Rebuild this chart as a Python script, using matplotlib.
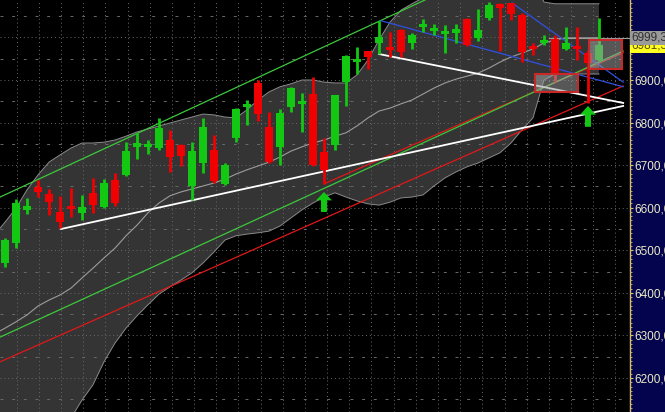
import numpy as np
import matplotlib
matplotlib.use("Agg")
import matplotlib.pyplot as plt
from matplotlib.patches import Rectangle, Polygon

# ---- candle data ----
opens = [6470, 6517, 6595, 6649, 6632, 6590, 6602, 6588, 6634, 6602,
         6665, 6677, 6743, 6743, 6740, 6759, 6747, 6651, 6705, 6736,
         6656, 6764, 6837, 6893, 6790, 6743, 6837, 6844, 6867, 6731,
         6747, 6895, 6942, 6968, 6987, 6978, 7017, 6987, 7025, 7015,
         7008, 7010, 7043, 6999, 7046, 7079, 7081, 7053, 6978, 6987,
         6996, 6973, 6978, 6963, 6947]
highs = [6528, 6620, 6623, 6665, 6644, 6628, 6646, 6630, 6670, 6667,
         6681, 6754, 6776, 6759, 6811, 6783, 6750, 6754, 6811, 6771,
         6705, 6834, 6853, 6900, 6825, 6832, 6884, 6869, 6907, 6764,
         6865, 6959, 6978, 6968, 7039, 7013, 7020, 7010, 7043, 7032,
         7029, 7032, 7046, 7067, 7083, 7081, 7081, 7057, 6987, 7006,
         7006, 7025, 7025, 6971, 7046]
lows = [6461, 6505, 6585, 6625, 6583, 6552, 6578, 6571, 6588, 6599,
        6604, 6675, 6714, 6726, 6736, 6684, 6698, 6618, 6682, 6658,
        6653, 6754, 6794, 6804, 6705, 6700, 6825, 6778, 6698, 6656,
        6736, 6839, 6914, 6926, 6961, 6954, 6954, 6973, 7013, 7006,
        6963, 6987, 6980, 6992, 7041, 6967, 7041, 6942, 6959, 6982,
        6895, 6971, 6947, 6846, 6945]
closes = [6524, 6611, 6604, 6637, 6613, 6566, 6597, 6602, 6606, 6658,
          6610, 6733, 6752, 6750, 6787, 6719, 6722, 6733, 6790, 6663,
          6700, 6832, 6841, 6820, 6707, 6823, 6881, 6848, 6700, 6689,
          6865, 6956, 6949, 6954, 7001, 6971, 6966, 7006, 7029, 7022,
          7015, 7020, 6982, 7017, 7076, 7069, 7055, 6966, 6973, 6994,
          6916, 6987, 6973, 6940, 6981.3]

# ---- Bollinger bands (first value = bar just off the left edge) ----
bb_upper = [6535,
            6566, 6599, 6642, 6677, 6707, 6724, 6740, 6752, 6752, 6754,
            6759, 6768, 6778, 6785, 6792, 6799, 6806, 6813, 6820, 6818,
            6813, 6811, 6830, 6853, 6872, 6884, 6891, 6900, 6900, 6895,
            6893, 6893, 6912, 6947, 6994, 7036, 7064, 7079, 7093, 7111,
            7123, 7130, 7135, 7135, 7140, 7153, 7158, 7147, 7135, 7083,
            7079, 7079, 7079, 7079, 7079]
bb_mid = [6303,
          6317, 6332, 6348, 6369, 6383, 6395, 6411, 6435, 6458, 6482,
          6505, 6534, 6559, 6588, 6611, 6628, 6637, 6644, 6651, 6658,
          6667, 6679, 6689, 6698, 6707, 6719, 6733, 6743, 6752, 6759,
          6768, 6776, 6792, 6811, 6827, 6834, 6844, 6853, 6867, 6881,
          6893, 6902, 6909, 6916, 6928, 6942, 6954, 6963, 6973, 6987,
          6994, 6999, 6999, 6999, 6999.3]
bb_lower = [6071,
            6068, 6064, 6054, 6061, 6059, 6066, 6106, 6148, 6184, 6238,
            6282, 6317, 6346, 6372, 6397, 6414, 6430, 6447, 6470, 6496,
            6524, 6534, 6538, 6541, 6545, 6557, 6576, 6595, 6611, 6625,
            6635, 6625, 6616, 6609, 6606, 6613, 6623, 6625, 6630, 6651,
            6670, 6684, 6696, 6705, 6717, 6729, 6752, 6783, 6811, 6900,
            6914, 6914, 6914, 6914, 6914]

# ---- trend lines: (x0, y0, x1, y1) in bar index / price ----
green_lines = [(-0.45, 6625, 38.6, 7093), (-0.45, 6296, 56.2, 6968)]
red_lines = [(-0.45, 6238, 56.2, 6886), (29, 6656, 56.2, 6964)]
white_lines = [(5.1, 6550, 56.2, 6839), (34, 6961, 56.2, 6846)]
blue_lines = [(34.2, 7039, 56.2, 6884), (46.1, 7081, 56.2, 6895)]

# ---- boxes (x0, x1, y0, y1) and arrows (x, tip, base) ----
boxes = [(48.2, 52.1, 6872, 6914), (53.1, 56.1, 6926, 6994)]
arrows = [(29, 6637, 6590), (53, 6839, 6790)]

last_mid = 6999.3
last_close = 6981.3
ytick_vals = [6200, 6300, 6400, 6500, 6600, 6700, 6800, 6900]

Y0, Y1 = 6120.1, 7087.9

idx = np.arange(len(closes))
band_idx = np.arange(-1, len(bb_mid) - 1)
o = np.array(opens, dtype=float)
c = np.array(closes, dtype=float)
h = np.array(highs, dtype=float)
l = np.array(lows, dtype=float)

GREEN = "#12c812"
RED = "#f00000"

fig = plt.figure(figsize=(6.65, 4.12), dpi=100, facecolor="#03034e")
ax = fig.add_axes([0, 0, 630 / 665, 1])
ax.set_facecolor("black")
ax.set_xlim(-0.4545, 56.82)
ax.set_ylim(Y0, Y1)

# grid
for gx in np.arange(1.07, 57, 2.0155):
    ax.axvline(gx, color="#6a6a6a", lw=0.7, ls=(0, (1, 3)), zorder=1.5)
for gy in np.arange(6150, 7100, 50):
    if gy % 100 == 0:
        ax.axhline(gy, color="#6a6a6a", lw=0.7, ls=(0, (1, 3)), zorder=1.5)
    else:
        ax.axhline(gy, color="#6a6a6a", lw=0.7, ls=(0, (3, 9)), zorder=1.5)

# bollinger band
ax.fill_between(band_idx, bb_lower, bb_upper, color="#343434", lw=0, zorder=1)
ax.plot(band_idx, bb_upper, color="#8a8a8a", lw=0.7, zorder=1.6)
ax.plot(band_idx, bb_lower, color="#8a8a8a", lw=0.7, zorder=1.6)
ax.plot(band_idx, bb_mid, color="#9c9c9c", lw=0.8, zorder=2)
ax.plot([49.5, 56.82], [last_mid, last_mid], color="#9c9c9c", lw=0.8, zorder=2)

# trend lines
for x0, y0, x1, y1 in red_lines:
    ax.plot([x0, x1], [y0, y1], color="#e01818", lw=0.9, zorder=3)
for x0, y0, x1, y1 in green_lines:
    ax.plot([x0, x1], [y0, y1], color="#3cc83c", lw=0.9, zorder=3)
for x0, y0, x1, y1 in blue_lines:
    ax.plot([x0, x1], [y0, y1], color="#3050e0", lw=0.9, zorder=3)
for x0, y0, x1, y1 in white_lines:
    ax.plot([x0, x1], [y0, y1], color="white", lw=1.3, zorder=3)

# candles
up = c >= o
colors = np.where(up, GREEN, RED)
ax.vlines(idx, l, h, colors=colors, lw=2, zorder=4)
body_lo = np.minimum(o, c)
body_h = np.abs(c - o)
min_h = 7.0
small = body_h < min_h
body_lo = np.where(small, (o + c) / 2 - min_h / 2, body_lo)
body_h = np.where(small, min_h, body_h)
ax.bar(idx, body_h, bottom=body_lo, width=0.74, color=colors, lw=0, zorder=4)

# boxes
for x0, x1, y0, y1 in boxes:
    ax.add_patch(Rectangle((x0, y0), x1 - x0, y1 - y0, facecolor="#a0a0a0",
                           alpha=0.55, edgecolor="none", zorder=5))
    ax.add_patch(Rectangle((x0, y0), x1 - x0, y1 - y0, facecolor="none",
                           edgecolor="#c82828", lw=1.5, zorder=5))

# arrows
for ax_x, tip, base in arrows:
    neck = tip - (tip - base) * 0.42
    pts = [(ax_x, tip), (ax_x + 0.72, neck), (ax_x + 0.27, neck),
           (ax_x + 0.27, base), (ax_x - 0.27, base), (ax_x - 0.27, neck),
           (ax_x - 0.72, neck)]
    ax.add_patch(Polygon(pts, closed=True, color=GREEN, lw=0, zorder=6))

# right axis
ax.yaxis.tick_right()
ax.set_yticks(ytick_vals)
ax.set_yticklabels([f"{v},0" for v in ytick_vals], fontsize=8.5,
                   family="Liberation Sans", color="#ecebc4")
ax.set_yticks(np.arange(6130, 7090, 10), minor=True)
ax.tick_params(axis="y", which="major", length=2, color="#d8c070", pad=0.8)
ax.tick_params(axis="y", which="minor", length=1.5, color="#d8c070")
ax.set_xticks([])
for side in ["top", "left", "bottom"]:
    ax.spines[side].set_visible(False)
ax.spines["right"].set_color("#d8c070")
ax.spines["right"].set_linewidth(1)

# price labels
ax.text(1.002, (last_close - Y0) / (Y1 - Y0), f"{last_close:.1f}".replace(".", ","),
        transform=ax.transAxes, fontsize=8.5, family="Liberation Sans", color="#5a4a00",
        va="center", ha="left", clip_on=False, zorder=7,
        bbox=dict(boxstyle="square,pad=0.1", fc="#ffff20", ec="none"))
ax.text(1.002, (last_mid - Y0) / (Y1 - Y0), f"{last_mid:.1f}".replace(".", ","),
        transform=ax.transAxes, fontsize=8.5, family="Liberation Sans", color="#303030",
        va="center", ha="left", clip_on=False, zorder=8,
        bbox=dict(boxstyle="square,pad=0.1", fc="#9a9a9a", ec="none"))

fig.savefig("out.png", dpi=100, facecolor=fig.get_facecolor())
